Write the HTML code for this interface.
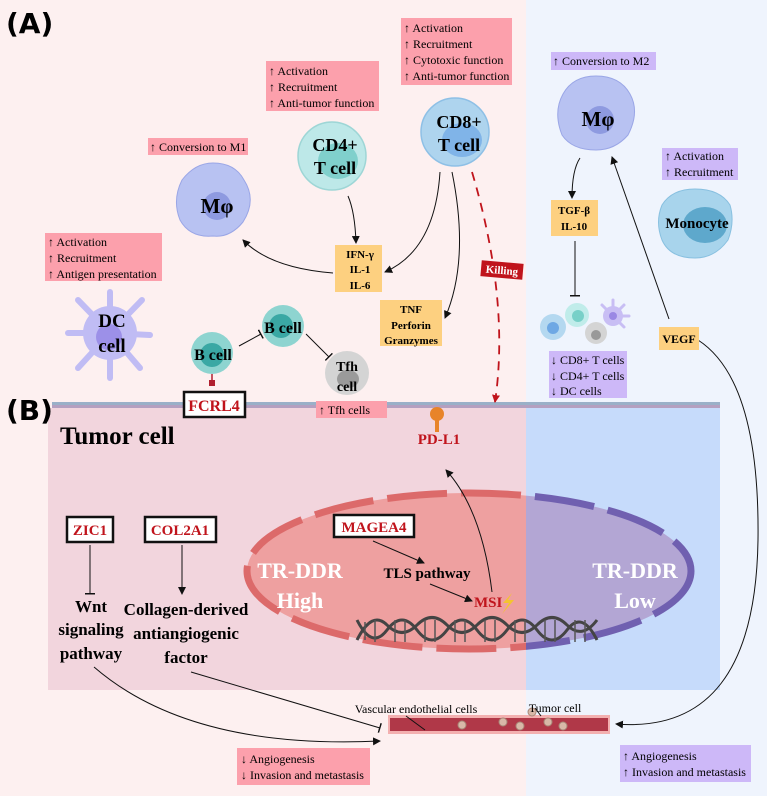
<!DOCTYPE html>
<html><head><meta charset="utf-8"><style>
html,body{margin:0;padding:0;background:#fff}
svg{display:block}
.s{font-family:"Liberation Serif",serif}
.b{font-family:"Liberation Serif",serif;font-weight:bold}
</style></head><body>
<svg width="767" height="796" viewBox="0 0 767 796" xmlns="http://www.w3.org/2000/svg">
<defs>
<marker id="ar" markerWidth="8" markerHeight="8" refX="7" refY="4" orient="auto" markerUnits="userSpaceOnUse"><path d="M0,0 L8,4 L0,8 z" fill="#111"/></marker>
<marker id="ar2" markerWidth="8" markerHeight="8" refX="7" refY="4" orient="auto" markerUnits="userSpaceOnUse"><path d="M0,0 L8,4 L0,8 z" fill="#c0141c"/></marker>
<marker id="tb" markerWidth="2" markerHeight="10" refX="1" refY="5" orient="auto" markerUnits="userSpaceOnUse"><rect x="0" y="0" width="1.5" height="10" fill="#111"/></marker>
<clipPath id="cl"><rect x="0" y="0" width="526" height="796"/></clipPath>
<clipPath id="cr"><rect x="526" y="0" width="300" height="796"/></clipPath>
</defs>
<rect x="0" y="0" width="526" height="796" fill="#fdf0f0"/>
<rect x="526" y="0" width="241" height="796" fill="#eff4fd"/>
<text x="6" y="33" font-family="DejaVu Sans" font-weight="bold" font-size="28">(A)</text>

<!-- tumor cell region -->
<rect x="48" y="408" width="478" height="282" fill="#f2d5dd"/>
<rect x="526" y="408" width="194" height="282" fill="#c6dbfb"/>
<rect x="52" y="402" width="668" height="3" fill="#9ab0c8"/>
<rect x="52" y="405" width="668" height="3" fill="#b4a0c0"/>
<text x="6" y="420" font-family="DejaVu Sans" font-weight="bold" font-size="28">(B)</text>
<text x="60" y="444" class="b" font-size="25">Tumor cell</text>

<!-- nucleus -->
<g clip-path="url(#cl)"><ellipse cx="469" cy="571" rx="222" ry="78" fill="#eea0a0" stroke="#dc6a6a" stroke-width="7" stroke-dasharray="60 14"/></g>
<g clip-path="url(#cr)"><ellipse cx="469" cy="571" rx="222" ry="78" fill="#b3a6d4" stroke="#7060b0" stroke-width="7" stroke-dasharray="60 14"/></g>
<text x="300" y="578" class="b" font-size="22" fill="#fff" text-anchor="middle">TR-DDR</text>
<text x="300" y="608" class="b" font-size="22" fill="#fff" text-anchor="middle">High</text>
<text x="635" y="578" class="b" font-size="22" fill="#fff" text-anchor="middle">TR-DDR</text>
<text x="635" y="608" class="b" font-size="22" fill="#fff" text-anchor="middle">Low</text>
<rect x="334" y="515" width="80" height="22" fill="#fff" stroke="#111" stroke-width="2.5"/>
<text x="374" y="532" class="b" font-size="15" fill="#c0141c" text-anchor="middle">MAGEA4</text>
<line x1="373" y1="541" x2="424" y2="563" stroke="#111" marker-end="url(#ar)"/>
<text x="427" y="578" class="b" font-size="15" text-anchor="middle">TLS pathway</text>
<line x1="430" y1="584" x2="472" y2="601" stroke="#111" marker-end="url(#ar)"/>
<text x="474" y="607" class="b" font-size="15" fill="#c0141c">MSI</text>
<path d="M512,593 L503,603 L509,603 L502,614 L514,600 L508,600 Z" fill="#f4c430"/>
<path d="M492,592 Q482,510 446,470" fill="none" stroke="#111" marker-end="url(#ar)"/>
<text x="439" y="444" class="b" font-size="15" fill="#c0141c" text-anchor="middle">PD-L1</text>
<line x1="437" y1="414" x2="437" y2="432" stroke="#e8842a" stroke-width="4"/>
<circle cx="437" cy="414" r="7" fill="#e8842a"/>
<!-- DNA -->
<g fill="none" stroke="#444" stroke-width="3">
<path d="M357,640 Q372,610 387,625 T417,625 T447,625 T477,625 T507,625 T537,625 T567,625 T597,620"/>
<path d="M357,620 Q372,650 387,630 T417,630 T447,630 T477,630 T507,630 T537,630 T567,630 T597,640"/>
</g>
<g stroke="#555" stroke-width="1.5">
<line x1="365" y1="622" x2="365" y2="640"/><line x1="375" y1="620" x2="375" y2="642"/><line x1="395" y1="620" x2="395" y2="642"/><line x1="405" y1="620" x2="405" y2="642"/><line x1="425" y1="620" x2="425" y2="642"/><line x1="435" y1="620" x2="435" y2="642"/><line x1="455" y1="620" x2="455" y2="642"/><line x1="465" y1="620" x2="465" y2="642"/><line x1="485" y1="620" x2="485" y2="642"/><line x1="495" y1="620" x2="495" y2="642"/><line x1="515" y1="620" x2="515" y2="642"/><line x1="525" y1="620" x2="525" y2="642"/><line x1="545" y1="620" x2="545" y2="642"/><line x1="555" y1="620" x2="555" y2="642"/><line x1="575" y1="620" x2="575" y2="642"/><line x1="585" y1="620" x2="585" y2="642"/>
</g>

<!-- ZIC1 / COL2A1 -->
<rect x="67" y="517" width="46" height="25" fill="#fff" stroke="#111" stroke-width="2.5"/>
<text x="90" y="535" class="b" font-size="15" fill="#c0141c" text-anchor="middle">ZIC1</text>
<rect x="145" y="517" width="71" height="25" fill="#fff" stroke="#111" stroke-width="2.5"/>
<text x="180" y="535" class="b" font-size="15" fill="#c0141c" text-anchor="middle">COL2A1</text>
<line x1="90" y1="545" x2="90" y2="594" stroke="#111" marker-end="url(#tb)"/>
<line x1="182" y1="545" x2="182" y2="594" stroke="#111" marker-end="url(#ar)"/>
<text x="91" y="612" class="b" font-size="17" text-anchor="middle">Wnt</text>
<text x="91" y="635" class="b" font-size="17" text-anchor="middle">signaling</text>
<text x="91" y="659" class="b" font-size="17" text-anchor="middle">pathway</text>
<text x="186" y="615" class="b" font-size="17" text-anchor="middle">Collagen-derived</text>
<text x="186" y="639" class="b" font-size="17" text-anchor="middle">antiangiogenic</text>
<text x="186" y="663" class="b" font-size="17" text-anchor="middle">factor</text>
<path d="M94,667 Q190,750 380,741" fill="none" stroke="#111" marker-end="url(#ar)"/>
<line x1="191" y1="672" x2="380" y2="728" stroke="#111" marker-end="url(#tb)"/>

<!-- vessel -->
<rect x="388" y="715" width="222" height="19" fill="#f3b0b0"/>
<rect x="390" y="718" width="218" height="13" fill="#b03848"/>
<g fill="#d8b8a8" stroke="#a88878"><circle cx="462" cy="725" r="4"/><circle cx="503" cy="722" r="4"/><circle cx="520" cy="726" r="4"/><circle cx="548" cy="722" r="4"/><circle cx="563" cy="726" r="4"/><circle cx="532" cy="712" r="4"/></g>
<text x="416" y="713" class="s" font-size="12" text-anchor="middle">Vascular endothelial cells</text>
<line x1="406" y1="716" x2="425" y2="730" stroke="#111"/>
<text x="555" y="712" class="s" font-size="12" text-anchor="middle">Tumor cell</text>
<line x1="541" y1="716" x2="535" y2="708" stroke="#111"/>
<path d="M698,340 Q760,380 758,540 Q755,735 616,724" fill="none" stroke="#111" marker-end="url(#ar)"/>
<rect x="237" y="748" width="133" height="37" fill="#fca0ac"/>
<text x="241" y="763" class="s" font-size="12">↓ Angiogenesis</text>
<text x="241" y="779" class="s" font-size="12">↓ Invasion and metastasis</text>
<rect x="620" y="745" width="131" height="37" fill="#cdb8f8"/>
<text x="623" y="760" class="s" font-size="12">↑ Angiogenesis</text>
<text x="623" y="776" class="s" font-size="12">↑ Invasion and metastasis</text>

<!-- Panel A boxes -->
<rect x="401" y="18" width="111" height="67" fill="#fca0ac"/>
<g class="s" font-size="12"><text x="404" y="32">↑ Activation</text><text x="404" y="48">↑ Recruitment</text><text x="404" y="64">↑ Cytotoxic function</text><text x="404" y="80">↑ Anti-tumor function</text></g>
<rect x="266" y="61" width="113" height="50" fill="#fca0ac"/>
<g class="s" font-size="12"><text x="269" y="75">↑ Activation</text><text x="269" y="91">↑ Recruitment</text><text x="269" y="107">↑ Anti-tumor function</text></g>
<rect x="148" y="138" width="100" height="17" fill="#fca0ac"/>
<text x="150" y="151" class="s" font-size="12">↑ Conversion to M1</text>
<rect x="45" y="233" width="117" height="48" fill="#fca0ac"/>
<g class="s" font-size="12"><text x="48" y="246">↑ Activation</text><text x="48" y="262">↑ Recruitment</text><text x="48" y="278">↑ Antigen presentation</text></g>
<rect x="551" y="52" width="105" height="18" fill="#cdb8f8"/>
<text x="553" y="65" class="s" font-size="12">↑ Conversion to M2</text>
<rect x="662" y="148" width="76" height="32" fill="#cdb8f8"/>
<g class="s" font-size="12"><text x="665" y="160">↑ Activation</text><text x="665" y="176">↑ Recruitment</text></g>
<rect x="549" y="351" width="78" height="47" fill="#cdb8f8"/>
<g class="s" font-size="12"><text x="551" y="364">↓ CD8+ T cells</text><text x="551" y="380">↓ CD4+ T cells</text><text x="551" y="395">↓ DC cells</text></g>
<rect x="316" y="401" width="71" height="17" fill="#fca0ac"/>
<text x="319" y="414" class="s" font-size="12">↑ Tfh cells</text>

<!-- cells -->
<circle cx="455" cy="132" r="34" fill="#aed4ee" stroke="#8ec0e6" stroke-width="1.5"/>
<ellipse cx="462" cy="140" rx="20" ry="17" fill="#80b4e8"/>
<text x="459" y="128" class="b" font-size="18" text-anchor="middle">CD8+</text>
<text x="459" y="151" class="b" font-size="18" text-anchor="middle">T cell</text>
<circle cx="332" cy="156" r="34" fill="#bde8e8" stroke="#9ed6d6" stroke-width="1.5"/>
<ellipse cx="338" cy="161" rx="20" ry="18" fill="#80d0cc"/>
<text x="335" y="151" class="b" font-size="18" text-anchor="middle">CD4+</text>
<text x="335" y="174" class="b" font-size="18" text-anchor="middle">T cell</text>
<path d="M213,163 Q235,163 244,180 Q257,200 243,222 Q230,238 213,236 Q190,238 180,220 Q172,200 182,180 Q195,163 213,163 Z" fill="#b8c2f2" stroke="#9aa6e6"/>
<circle cx="217" cy="206" r="14" fill="#8e9ae0"/>
<text x="217" y="213" class="b" font-size="21" text-anchor="middle">Mφ</text>
<path d="M596,76 Q620,76 630,94 Q640,112 628,135 Q615,150 596,150 Q572,150 562,135 Q553,112 563,94 Q573,76 596,76 Z" fill="#b8c2f2" stroke="#9aa6e6"/>
<circle cx="600" cy="120" r="14" fill="#8e9ae0"/>
<text x="598" y="126" class="b" font-size="21" text-anchor="middle">Mφ</text>
<path d="M695,189 Q720,189 730,205 Q735,222 728,240 Q715,258 695,258 Q670,258 662,240 Q655,222 662,205 Q672,189 695,189 Z" fill="#a8d4ec" stroke="#88c0e0"/>
<ellipse cx="705" cy="225" rx="22" ry="18" fill="#5ea8cc"/>
<text x="697" y="228" class="b" font-size="15" text-anchor="middle">Monocyte</text>
<g stroke="#c0bcf4" stroke-width="6" stroke-linecap="round"><line x1="110" y1="333" x2="110" y2="292"/><line x1="110" y1="333" x2="142" y2="300"/><line x1="110" y1="333" x2="150" y2="335"/><line x1="110" y1="333" x2="140" y2="368"/><line x1="110" y1="333" x2="110" y2="378"/><line x1="110" y1="333" x2="78" y2="368"/><line x1="110" y1="333" x2="68" y2="333"/><line x1="110" y1="333" x2="78" y2="300"/></g>
<circle cx="110" cy="333" r="27" fill="#c0bcf4"/>
<circle cx="109" cy="337" r="13" fill="#9c90e8"/>
<text x="112" y="327" class="b" font-size="19" text-anchor="middle">DC</text>
<text x="112" y="352" class="b" font-size="19" text-anchor="middle">cell</text>
<circle cx="212" cy="353" r="21" fill="#8ed4d0"/><circle cx="212" cy="355" r="12" fill="#3aa8a4"/>
<text x="213" y="360" class="b" font-size="16" text-anchor="middle">B cell</text>
<circle cx="283" cy="326" r="21" fill="#8ed4d0"/><circle cx="281" cy="326" r="12" fill="#3aa8a4"/>
<text x="283" y="333" class="b" font-size="16" text-anchor="middle">B cell</text>
<circle cx="347" cy="373" r="22" fill="#d4d4d4"/><ellipse cx="348" cy="379" rx="11" ry="9" fill="#9a9a9a"/>
<text x="347" y="371" class="b" font-size="14" text-anchor="middle">Tfh</text>
<text x="347" y="391" class="b" font-size="14" text-anchor="middle">cell</text>
<line x1="239" y1="346" x2="261" y2="334" stroke="#111" marker-end="url(#tb)"/>
<line x1="306" y1="334" x2="329" y2="357" stroke="#111" marker-end="url(#tb)"/>
<line x1="212" y1="374" x2="212" y2="383" stroke="#b02030" stroke-width="1.5"/><rect x="209" y="380" width="6" height="6" fill="#b02030"/>
<rect x="184" y="392" width="61" height="25" fill="#fff" stroke="#111" stroke-width="2.5"/>
<text x="214" y="411" class="b" font-size="16" fill="#c0141c" text-anchor="middle">FCRL4</text>

<!-- cytokines -->
<rect x="335" y="245" width="47" height="47" fill="#fdd080"/>
<text x="360" y="258" class="b" font-size="11" text-anchor="middle">IFN-γ</text>
<text x="360" y="273" class="b" font-size="11" text-anchor="middle">IL-1</text>
<text x="360" y="289" class="b" font-size="11" text-anchor="middle">IL-6</text>
<rect x="380" y="300" width="62" height="46" fill="#fdd080"/>
<text x="411" y="313" class="b" font-size="11" text-anchor="middle">TNF</text>
<text x="411" y="329" class="b" font-size="11" text-anchor="middle">Perforin</text>
<text x="411" y="344" class="b" font-size="11" text-anchor="middle">Granzymes</text>
<rect x="551" y="200" width="47" height="36" fill="#fdd080"/>
<text x="574" y="214" class="b" font-size="11" text-anchor="middle">TGF-β</text>
<text x="574" y="230" class="b" font-size="11" text-anchor="middle">IL-10</text>
<rect x="659" y="327" width="40" height="23" fill="#fdd080"/>
<text x="679" y="343" class="b" font-size="12" text-anchor="middle">VEGF</text>

<!-- arrows panel A -->
<path d="M348,196 Q355,212 356,243" fill="none" stroke="#111" marker-end="url(#ar)"/>
<path d="M333,273 Q270,268 243,240" fill="none" stroke="#111" marker-end="url(#ar)"/>
<path d="M440,172 Q435,250 385,272" fill="none" stroke="#111" marker-end="url(#ar)"/>
<path d="M452,172 Q470,260 445,318" fill="none" stroke="#111" marker-end="url(#ar)"/>
<path d="M472,172 Q510,300 495,402" fill="none" stroke="#c0141c" stroke-width="1.8" stroke-dasharray="9 7" marker-end="url(#ar2)"/>
<g transform="translate(502,270) rotate(5)"><rect x="-21" y="-8" width="42" height="16" fill="#c0141c"/><text x="0" y="4" class="b" font-size="11" fill="#fff" text-anchor="middle">Killing</text></g>
<path d="M580,158 Q572,170 572,198" fill="none" stroke="#111" marker-end="url(#ar)"/>
<line x1="575" y1="241" x2="575" y2="296" stroke="#111" marker-end="url(#tb)"/>
<line x1="669" y1="319" x2="612" y2="157" stroke="#111" marker-end="url(#ar)"/>

<!-- small cells -->
<circle cx="553" cy="327" r="13" fill="#b4d8f0"/><circle cx="553" cy="328" r="6" fill="#6ea8e4"/>
<circle cx="577" cy="315" r="12" fill="#c0ecea"/><circle cx="578" cy="316" r="6" fill="#78d0c8"/>
<circle cx="596" cy="333" r="11" fill="#d4d4d4"/><circle cx="596" cy="335" r="5" fill="#999"/>
<g stroke="#c8bef4" stroke-width="3" stroke-linecap="round"><line x1="613" y1="316" x2="613" y2="300"/><line x1="613" y1="316" x2="629" y2="316"/><line x1="613" y1="316" x2="624" y2="305"/><line x1="613" y1="316" x2="624" y2="327"/><line x1="613" y1="316" x2="602" y2="305"/></g>
<circle cx="613" cy="316" r="10" fill="#c8bef4"/><circle cx="613" cy="316" r="4" fill="#9a88e4"/>
</svg>
</body></html>
